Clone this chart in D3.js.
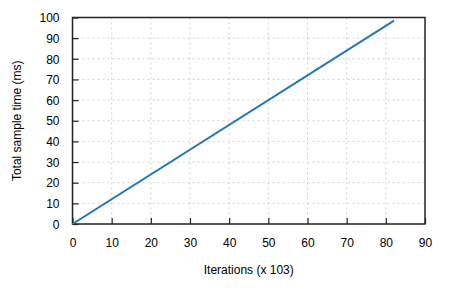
<!DOCTYPE html>
<html><head><meta charset="utf-8">
<script src="https://cdn.jsdelivr.net/npm/d3@7"></script>
<style>body{margin:0;background:#fff}svg{display:block}text{font-family:"Liberation Sans",Arial,sans-serif;fill:#000}</style>
</head><body><svg id="c" width="450" height="300"></svg>
<script>
const iterations = [0, 82.1];
const sampleTime = [0, 98.5];
const xTicks = [0,10,20,30,40,50,60,70,80,90];
const yTicks = [0,10,20,30,40,50,60,70,80,90,100];
const xLabel = "Iterations (x 103)";
const yLabel = "Total sample time (ms)";

const m = {l:72.5, r:425, t:17.5, b:224};
const svg = d3.select("#c");
const x = d3.scaleLinear().domain([0,90]).range([m.l,m.r]);
const y = d3.scaleLinear().domain([0,100]).range([m.b,m.t]);

// grid
svg.append("g").selectAll("line").data(xTicks.slice(1,-1)).join("line")
  .attr("x1",d=>x(d)).attr("x2",d=>x(d)).attr("y1",m.t).attr("y2",m.b)
  .attr("stroke","#c8c8c8").attr("stroke-width",0.8).attr("stroke-dasharray","2,3");
svg.append("g").selectAll("line").data(yTicks.slice(1,-1)).join("line")
  .attr("y1",d=>y(d)).attr("y2",d=>y(d)).attr("x1",m.l).attr("x2",m.r)
  .attr("stroke","#c8c8c8").attr("stroke-width",0.8).attr("stroke-dasharray","2,3");

// axes with inward ticks
const xa = svg.append("g").attr("transform",`translate(0,${m.b})`)
  .call(d3.axisBottom(x).tickValues(xTicks).tickSizeInner(-6).tickSizeOuter(0).tickPadding(14));
const ya = svg.append("g").attr("transform",`translate(${m.l},0)`)
  .call(d3.axisLeft(y).tickValues(yTicks).tickSizeInner(-6).tickSizeOuter(0).tickPadding(13));
[xa,ya].forEach(a=>{
  a.select(".domain").remove();
  a.selectAll(".tick line").attr("stroke","#222").attr("stroke-width",1.2);
  a.selectAll(".tick text").attr("font-size",12).attr("font-family","Liberation Sans, Arial, sans-serif").attr("fill","#000");
});
ya.selectAll(".tick text").attr("dy","0.35em");

// frame
svg.append("rect").attr("x",m.l).attr("y",m.t).attr("width",m.r-m.l).attr("height",m.b-m.t)
  .attr("fill","none").attr("stroke","#222").attr("stroke-width",1.5);

// line
const pts = iterations.map((v,i)=>[v,sampleTime[i]]);
svg.append("path").datum(pts)
  .attr("d",d3.line().x(d=>x(d[0])).y(d=>y(d[1])))
  .attr("fill","none").attr("stroke","#1f77b4").attr("stroke-width",2);

// titles
svg.append("text").attr("x",(m.l+m.r)/2).attr("y",274).attr("text-anchor","middle")
  .attr("font-size",12).text(xLabel);
svg.append("text").attr("transform",`translate(21,${(m.t+m.b)/2}) rotate(-90)`)
  .attr("text-anchor","middle").attr("font-size",12).text(yLabel);
</script></body></html>
